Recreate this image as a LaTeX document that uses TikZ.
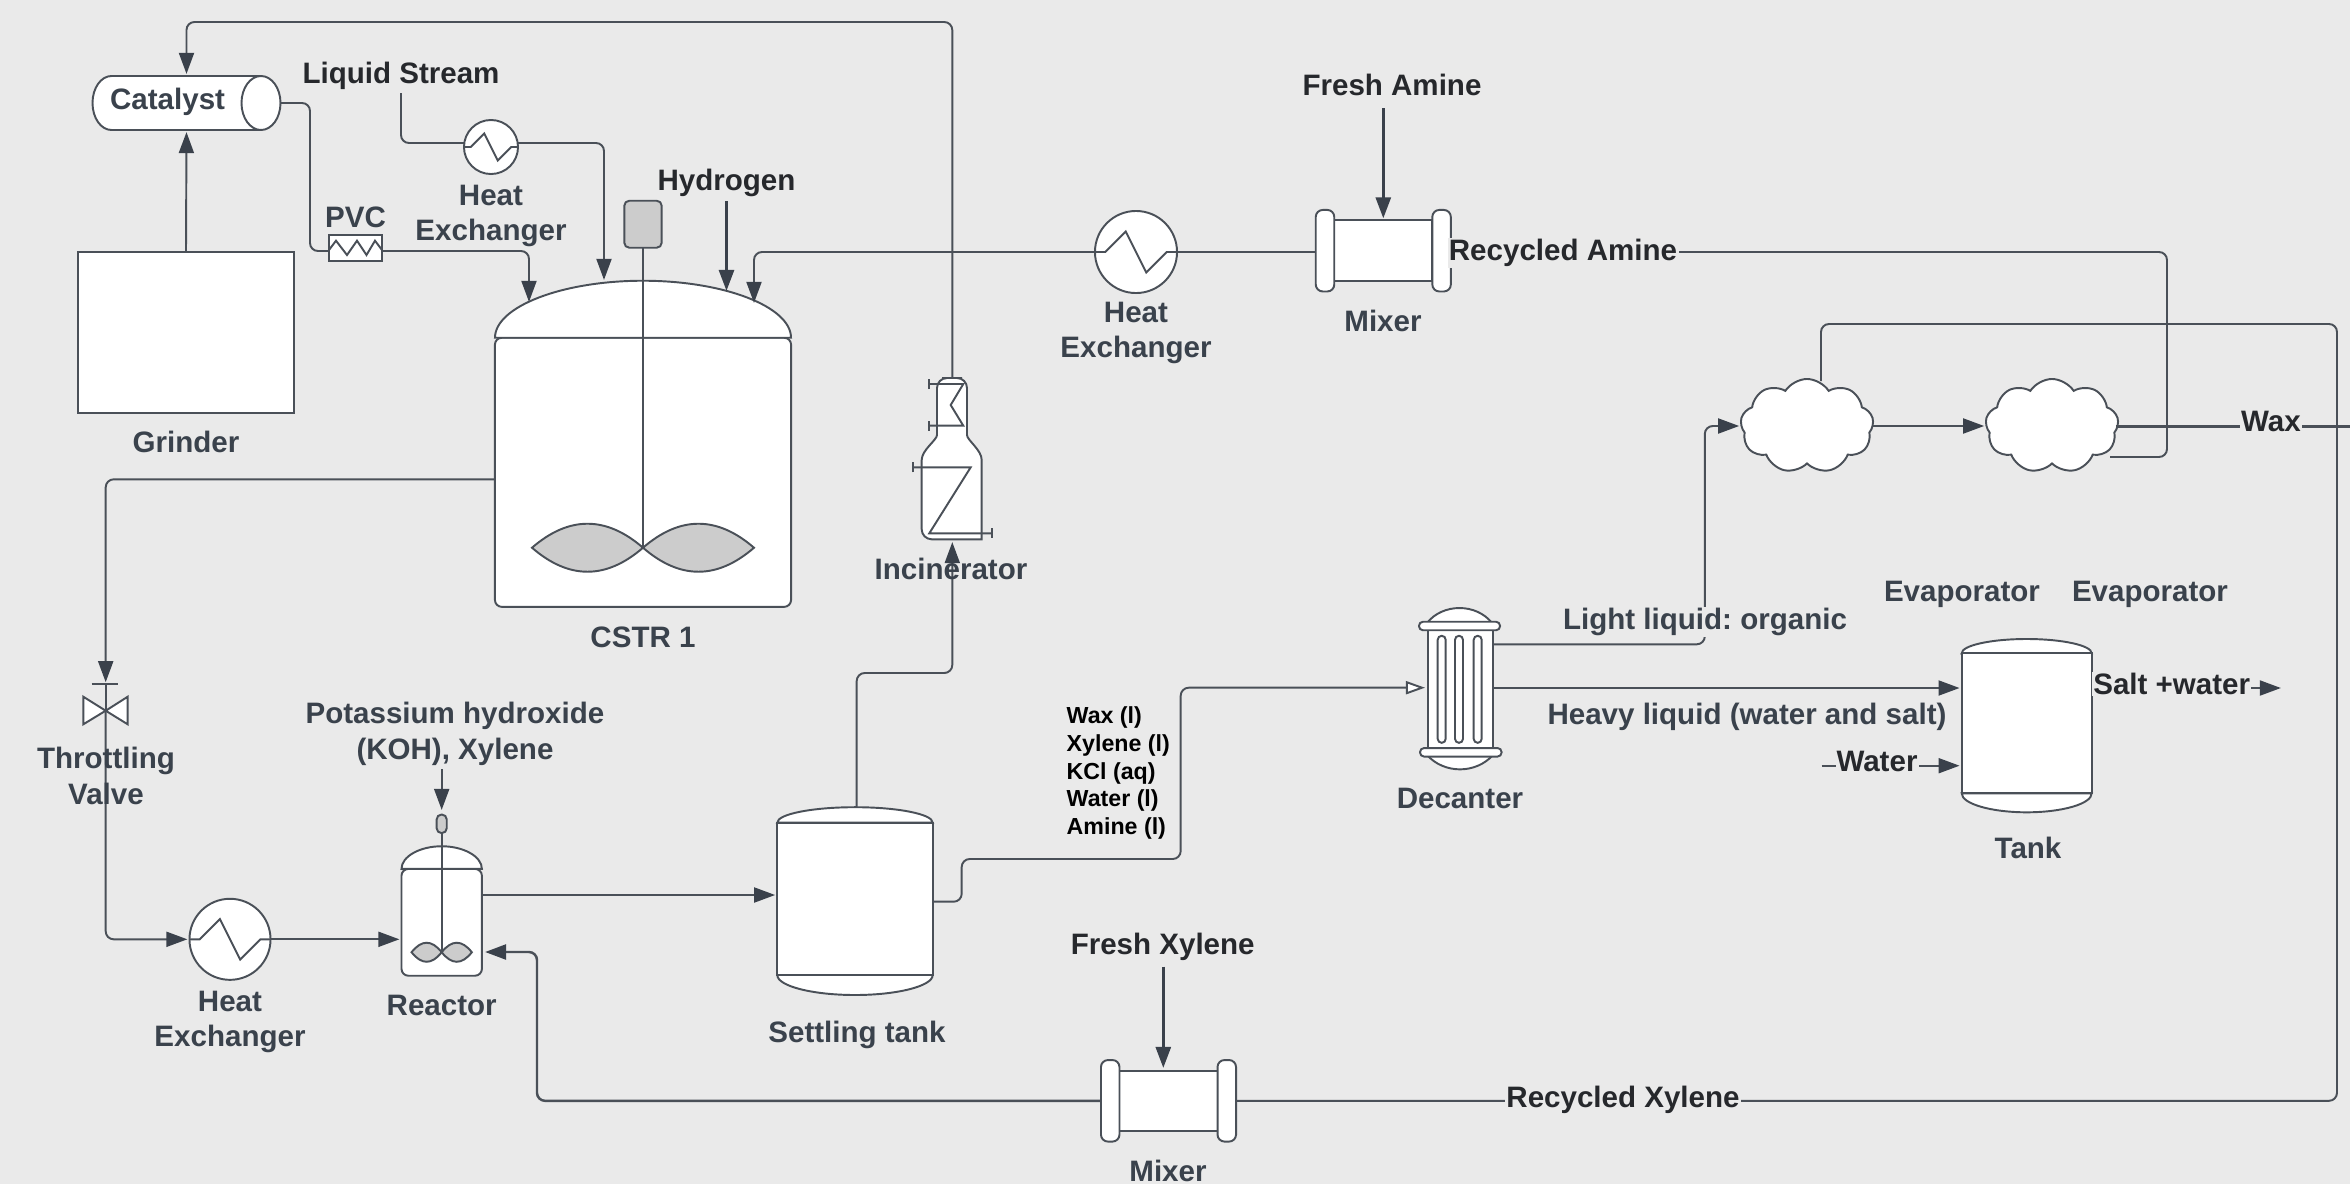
\documentclass[tikz,border=0pt]{standalone}
\usepackage{fontspec}
\setmainfont{Liberation Sans}
\usepackage{xcolor}
\usetikzlibrary{arrows.meta,shapes.symbols}
\definecolor{bgcol}{RGB}{234,234,234}
\definecolor{linecol}{RGB}{74,80,88}
\definecolor{tipcol}{RGB}{58,65,75}
\definecolor{txtcol}{RGB}{58,66,76}
\definecolor{darktxt}{RGB}{38,40,44}
\definecolor{graycol}{RGB}{204,204,204}
\tikzset{
  lbl/.style={font=\frenchspacing\fontsize{8.4}{10.2}\selectfont\bfseries, text=txtcol, align=center, inner sep=0pt},
  darklbl/.style={lbl, text=darktxt},
  cutlbl/.style={darklbl, fill=bgcol, inner xsep=.01cm, inner ysep=.01cm},
  part/.style={draw=linecol, fill=white, line width=.55pt, inner sep=0pt, outer sep=0pt},
  thinline/.style={draw=linecol, line width=.55pt},
  pipe/.style={thinline, rounded corners=.08cm},
  flow/.style={pipe, shorten >=.6pt, -{Triangle[length=2.1mm,width=1.5mm,color=tipcol]}},
  feed/.style={flow, draw=tipcol, line width=.8pt},
  coil/.style={thinline, {Bar[width=.1cm]}-{Bar[width=.1cm]}},
  evap/.style={part, cloud, cloud puffs=9, cloud puff arc=115, aspect=1.42, minimum width=1.33cm, minimum height=.94cm},
  flange/.style={part, rounded corners=.07cm, minimum width=.185cm, minimum height=.815cm},
  tube/.style={part, rounded corners=.04cm, minimum width=.08cm, minimum height=1.07cm}
}
\begin{document}
\begin{tikzpicture}[x=0.01cm,y=-0.01cm]
  \useasboundingbox[fill=bgcol] (0,0) rectangle (2350,1184);

  \node[part, minimum width=2.16cm, minimum height=1.61cm] (grinder) at (186,332.5) {};
  \node[inner sep=0pt, outer sep=0pt, minimum width=1.88cm, minimum height=.54cm] (catalyst) at (186.5,103) {};
  \draw[part] (261,76) -- (111.5,76) .. controls (101,76) and (92.5,88) .. (92.5,103) .. controls (92.5,118) and (101,130) .. (111.5,130) -- (261,130) -- cycle;
  \draw[part] (261,103) ellipse [x radius=19.5,y radius=27];
  \node[part, minimum width=.535cm, minimum height=.26cm] (pvc) at (355.5,248) {};
  \draw[thinline] (329,250) -- (336,240.7) -- (347,255) -- (357,240.7) -- (366.5,255) -- (375,240.7) -- (382,250);

  \foreach \n/\xc/\yc/\r in {hxS/491/147/27, hxM/1136/252/41, hxL/230/939.3/40.5} {
    \node[part, circle, minimum size=\r*0.02cm] (\n) at (\xc,\yc) {};
    \begin{scope}[shift={(\n.center)},scale=\r]
      \draw[thinline] (-1,0) -- (-.75,0) -- (-.25,-.5) -- (.25,.5) -- (.75,0) -- (1,0);
    \end{scope}
  }

  \foreach \n/\xc/\yc/\sx/\sy in {cstr/643/472.3/1/1, reactor/441.7/922.3/.2716/.397} {
    \node[part, rounded corners=.07cm, minimum width=\sx*2.96cm, minimum height=\sy*2.69cm] (\n) at (\xc,\yc) {};
    \begin{scope}[shift={(\n.north)},xscale=\sx,yscale=\sy]
      \draw[part] (-148,0) .. controls (-148,-31) and (-81,-57) .. (0,-57) .. controls (81,-57) and (148,-31) .. (148,0) -- cycle;
      \draw[thinline, fill=graycol, rounded corners=.05cm] (-18.7,-137) rectangle (18.7,-90);
      \draw[thinline, fill=graycol] (-111,210) .. controls (-74,178) and (-37,178) .. (0,210) .. controls (-37,242) and (-74,242) .. (-111,210) -- cycle;
      \draw[thinline, fill=graycol] (111,210) .. controls (74,178) and (37,178) .. (0,210) .. controls (37,242) and (74,242) .. (111,210) -- cycle;
      \draw[thinline] (0,-90) -- (0,210);
    \end{scope}
  }

  \foreach \n/\xc/\yc/\hw/\hh/\ta/\ba in {settle/855/898.8/77.7/76.2/15.4/20, tank/2026.7/723.3/65/70/14.3/19} {
    \begin{scope}[shift={(\xc,\yc)}]
      \draw[part] (-\hw,-\hh) .. controls (-\hw,-\hh-.55*\ta) and (-.55*\hw,-\hh-\ta) .. (0,-\hh-\ta) .. controls (.55*\hw,-\hh-\ta) and (\hw,-\hh-.55*\ta) .. (\hw,-\hh) -- cycle;
      \draw[part] (-\hw,\hh) .. controls (-\hw,\hh+.55*\ba) and (-.55*\hw,\hh+\ba) .. (0,\hh+\ba) .. controls (.55*\hw,\hh+\ba) and (\hw,\hh+.55*\ba) .. (\hw,\hh) -- cycle;
    \end{scope}
    \node[part, minimum width=\hw*.02cm, minimum height=\hh*.02cm] (\n) at (\xc,\yc) {};
  }

  \foreach \n/\xc/\yc in {mixA/1383.3/250.7, mixB/1168.5/1100.8} {
    \node[part, minimum width=.98cm, minimum height=.605cm] (\n) at (\xc,\yc) {};
    \node[flange, anchor=east] (\n-l) at (\n.west) {};
    \node[flange, anchor=west] (\n-r) at (\n.east) {};
  }

  \draw[part] (1427,623) to[bend left=52] (1492,623) -- cycle;
  \draw[part] (1427,755) to[bend right=48] (1493,755) -- cycle;
  \node[part, minimum width=.647cm, minimum height=1.26cm] (decanter) at (1460.3,689) {};
  \node[part, rounded corners=.04cm, minimum width=.81cm, minimum height=.085cm] (decTop) at (1459.5,626) {};
  \node[part, rounded corners=.04cm, minimum width=.815cm, minimum height=.085cm] (decBot) at (1460.8,752.3) {};
  \foreach \n/\xc in {tubeA/1441.7, tubeB/1459, tubeC/1477.7} {
    \node[tube] (\n) at (\xc,689.3) {};
  }

  \draw[part] (952,378) [rounded corners=.1cm] -- (967,378) -- (967,425) .. controls (967,440) and (981.7,450) .. (981.7,470)
    [sharp corners] -- (981.7,539.3) [rounded corners=.1cm] -- (921.7,539.3) -- (921.7,470) .. controls (921.7,450) and (937,440) .. (937,425) -- (937,378) -- cycle;
  \draw[coil] (928.3,384) -- (963.3,384) -- (950.7,405) -- (963.3,425.7) -- (928.3,425.7);
  \draw[coil] (911.7,467.3) -- (970.7,467.3) -- (929.3,533.3) -- (993.3,533.3);

  \node[evap] (evapA) at (1807,426) {};
  \node[evap] (evapB) at (2052,426) {};

  \coordinate (valve) at (105.7,710.7);
  \coordinate (valveTop) at (105.7,684.3);
  \draw[part] (83.3,696.7) -- (valve) -- (83.3,724.3) -- cycle;
  \draw[part] (127.7,696.7) -- (valve) -- (127.7,724.3) -- cycle;
  \draw[thinline] (91.7,684.3) -- (118.3,684.3);
  \draw[thinline] (valveTop) -- (valve);

  \coordinate (cstrA) at (529,304);
  \coordinate (cstrB) at (604,282);
  \coordinate (cstrC) at (726.5,293);
  \coordinate (cstrD) at (754,305);
  \coordinate (cstrOut) at (495,479.3);
  \coordinate (pvcIn) at (329,251);
  \coordinate (pvcOut) at (382,251);
  \coordinate (liqOut) at (401,93);
  \coordinate (hxSin) at (464.5,143);
  \coordinate (hxSout) at (518,143);
  \coordinate (h2Out) at (726.5,201);
  \coordinate (incTop) at (952.3,378);
  \coordinate (incBot) at (952.3,540);
  \coordinate (reacOut) at (482,895);
  \coordinate (reacBack) at (483,952);
  \coordinate (potOut) at (441.7,769);
  \coordinate (potIn) at (441.7,812);
  \coordinate (setTop) at (856.7,807.5);
  \coordinate (setOut) at (932.7,901.7);
  \coordinate (decIn) at (1425,687.7);
  \coordinate (decLight) at (1492.7,644.3);
  \coordinate (decHeavy) at (1492.7,688);
  \coordinate (saltIn) at (2091.7,688);
  \coordinate (saltOut) at (2283,688);
  \coordinate (watIn) at (1821.7,765.7);
  \coordinate (amineOut) at (1679,252);
  \coordinate (evATop) at (1821,381);
  \coordinate (evBLow) at (2110,457);
  \coordinate (evBWax) at (2116,426);
  \coordinate (waxEnd) at (2350,426);
  \coordinate (amineIn) at (1383.3,108);
  \coordinate (xylIn) at (1163.3,966.7);
  \coordinate (xylTip) at (1163.3,1070);

  \draw[flow] (grinder.north) -- (catalyst.south);
  \draw[flow] (incTop) -- (952.3,22) -| (catalyst.north);
  \draw[pipe] (catalyst.east) -- (310,103) -- (310,251) -- (pvcIn);
  \draw[flow] (pvcOut) -| (cstrA);
  \draw[pipe] (liqOut) |- (hxSin);
  \draw[flow] (hxSout) -| (cstrB);
  \draw[feed] (h2Out) -- (cstrC);
  \draw[thinline] (mixA-l.west |- hxM.east) -- (hxM.east);
  \draw[flow] (hxM.west) -| (cstrD);
  \draw[feed] (amineIn) -- (mixA.north);
  \draw[pipe] (amineOut) -- (2167,252) |- (evBLow);
  \draw[flow] (cstrOut) -| (valveTop);
  \draw[flow] (valve) |- (hxL.west);
  \draw[flow] (hxL.east) -- (hxL.east -| reactor.west);
  \draw[flow] (potOut) -- (potIn);
  \draw[flow] (reacOut) -- (reacOut -| settle.west);
  \draw[flow, line width=.7pt] (mixB-l.west) -- (537,1100.8) |- (reacBack);
  \draw[flow] (setTop) |- (952.3,673) -- (incBot);
  \draw[pipe, -{Triangle[open,fill=white,length=1.9mm,width=1.3mm]}] (setOut) -- (961.7,901.7) -- (961.7,859) -- (1180.7,859) -- (1180.7,687.7) -- (decIn);
  \draw[flow] (decLight) -- (1704.8,644.3) -- (1704.8,426) -- (evapA.west);
  \draw[flow] (decHeavy) -- (decHeavy -| tank.west);
  \draw[flow] (watIn) -- (watIn -| tank.west);
  \draw[flow] (saltIn) -- (saltOut);
  \draw[flow] (evapA.east) -- (evapB.west);
  \draw[pipe] (evATop) -- (1821,324) -- (2337,324) -- (2337,1100.8) -- (mixB-r.east);
  \draw[thinline, line width=.85pt] (evBWax) -- (waxEnd);
  \draw[feed] (xylIn) -- (xylTip);

  \node[lbl] (catalystLbl) at (167.6,102) {Catalyst};
  \node[lbl] (grinderLbl) at (186,442) {Grinder};
  \node[darklbl] (liquidLbl) at (401,76) {Liquid Stream};
  \node[lbl] (pvcLbl) at (355.5,217) {PVC};
  \node[lbl] (hxSLbl) at (491,216) {Heat\\Exchanger};
  \node[darklbl] (hydrogenLbl) at (726.5,183) {Hydrogen};
  \node[lbl] (cstrLbl) at (643,637) {CSTR 1};
  \node[lbl] (incLbl) at (951,569) {Incinerator};
  \node[lbl] (hxMLbl) at (1136,333) {Heat\\Exchanger};
  \node[darklbl] (freshAmineLbl) at (1392,85) {Fresh Amine};
  \node[lbl] (mixALbl) at (1383,321) {Mixer};
  \node[cutlbl] (recAmineLbl) at (1563,253) {Recycled Amine};
  \node[cutlbl] (waxLbl) at (2271,421) {Wax};
  \node[lbl] (evALbl) at (1962,594) {Evaporator};
  \node[lbl] (evBLbl) at (2150,594) {Evaporator};
  \node[lbl, fill=bgcol, inner ysep=.01cm] (lightLbl) at (1705,622) {Light liquid: organic};
  \node[lbl] (heavyLbl) at (1747,717) {Heavy liquid (water and salt)};
  \node[lbl] (decLbl) at (1460,798) {Decanter};
  \node[cutlbl] (saltLbl) at (2171.7,684) {Salt +water};
  \node[cutlbl] (waterLbl) at (1877,761) {Water};
  \node[lbl] (tankLbl) at (2028,847.7) {Tank};
  \node[lbl] (valveLbl) at (106,776) {Throttling\\Valve};
  \node[lbl] (potLbl) at (455,733.5) {Potassium hydroxide\\(KOH), Xylene};
  \node[lbl] (hxLLbl) at (230,1022) {Heat\\Exchanger};
  \node[lbl] (reacLbl) at (441.7,1005.7) {Reactor};
  \node[lbl] (setLbl) at (857,1035) {Settling tank};
  \node[lbl, text=black, align=left, anchor=west, font=\frenchspacing\fontsize{6.6}{7.88}\selectfont\bfseries] (mixLbl) at (1066,773) {Wax (l)\\Xylene (l)\\KCl (aq)\\Water (l)\\Amine (l)};
  \node[darklbl] (freshXylLbl) at (1162.7,947) {Fresh Xylene};
  \node[lbl] (mixBLbl) at (1168,1170.7) {Mixer};
  \node[cutlbl] (recXylLbl) at (1623,1100) {Recycled Xylene};
\end{tikzpicture}
\end{document}
